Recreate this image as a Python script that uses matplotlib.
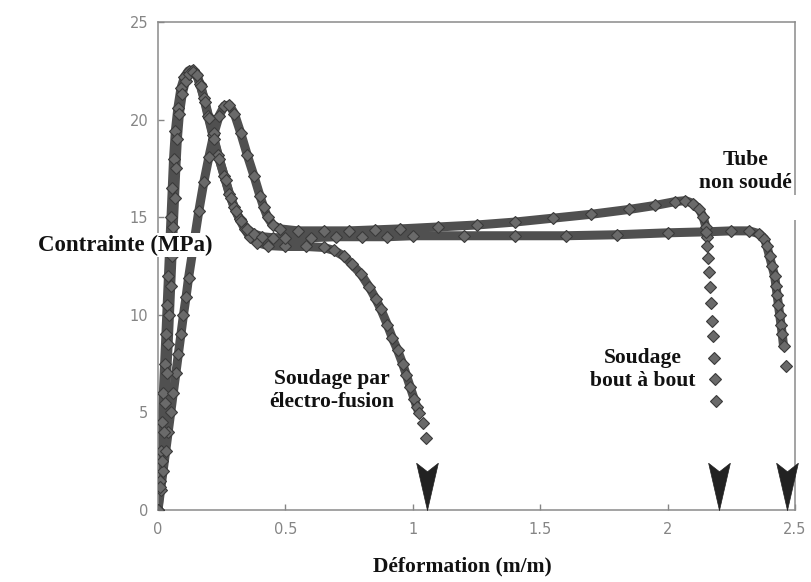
import numpy as np
import matplotlib.pyplot as plt
from matplotlib.patches import Rectangle

# Soudage par electro-fusion
ef_x = [0, 0.006, 0.011, 0.016, 0.021, 0.026, 0.031, 0.036, 0.041, 0.046, 0.051, 0.056, 0.061, 0.068,
        0.078, 0.09, 0.104, 0.12, 0.136, 0.15, 0.165, 0.18, 0.196, 0.215, 0.235, 0.26, 0.28, 0.30, 0.32,
        0.34, 0.36, 0.39, 0.43, 0.5, 0.58, 0.65, 0.69, 0.73, 0.76, 0.796, 0.83, 0.855, 0.874, 0.9, 0.92,
        0.94, 0.96, 0.975, 0.99, 1.005, 1.015, 1.025]
ef_y = [0, 1.5, 3, 4.5, 6, 7.5, 9, 10.5, 12, 13.5, 15, 16.5, 18, 19.4,
        20.6, 21.6, 22.2, 22.5, 22.55, 22.35, 21.8, 21.1, 20.2, 19.2, 18.2, 17.1, 16.2, 15.5, 14.9,
        14.4, 14.0, 13.7, 13.55, 13.5, 13.5, 13.45, 13.3, 13.0, 12.6, 12.1, 11.4, 10.8, 10.3, 9.5, 8.8,
        8.2, 7.5, 6.9, 6.3, 5.7, 5.3, 4.95]
ef_tail_x = [1.04, 1.05]
ef_tail_y = [4.45, 3.7]

# Soudage bout a bout
bab_x = [0, 0.01, 0.02, 0.03, 0.04, 0.05, 0.06, 0.07, 0.08, 0.09, 0.10, 0.11, 0.12, 0.14, 0.16, 0.18,
         0.20, 0.22, 0.24, 0.26, 0.28, 0.30, 0.325, 0.35, 0.377, 0.40, 0.415, 0.43, 0.45, 0.48, 0.55,
         0.65, 0.75, 0.85, 0.95, 1.1, 1.25, 1.4, 1.55, 1.7, 1.85, 1.95, 2.03, 2.07, 2.1, 2.125, 2.14,
         2.15, 2.153]
bab_y = [0, 1, 2, 3, 4, 5, 6, 7, 8, 9, 10, 10.9, 11.9, 13.6, 15.3, 16.8,
         18.1, 19.3, 20.2, 20.7, 20.75, 20.3, 19.3, 18.2, 17.1, 16.1, 15.5, 15.0, 14.6, 14.4, 14.3,
         14.3, 14.3, 14.35, 14.4, 14.5, 14.6, 14.75, 14.95, 15.15, 15.4, 15.6, 15.8, 15.85, 15.7, 15.4, 15.0,
         14.5, 14.0]
bab_tail_x = [2.155, 2.158, 2.162, 2.166, 2.17, 2.174, 2.178, 2.182, 2.186, 2.19]
bab_tail_y = [13.5, 12.9, 12.2, 11.4, 10.6, 9.7, 8.9, 7.8, 6.7, 5.6]

# Tube non soude
ns_x = [0, 0.008, 0.015, 0.022, 0.028, 0.034, 0.04, 0.045, 0.05, 0.055, 0.06, 0.065, 0.07, 0.076,
        0.084, 0.095, 0.108, 0.122, 0.138, 0.152, 0.168, 0.185, 0.2, 0.22, 0.24, 0.265, 0.285, 0.305,
        0.325, 0.35, 0.375, 0.41, 0.45, 0.5, 0.6, 0.7, 0.8, 0.9, 1.0, 1.2, 1.4, 1.6, 1.8, 2.0, 2.15,
        2.25, 2.32, 2.36, 2.38, 2.39, 2.40, 2.41, 2.42, 2.425, 2.43, 2.435, 2.44, 2.445, 2.45, 2.455]
ns_y = [0, 1.2, 2.5, 4, 5.5, 7, 8.5, 10, 11.5, 13, 14.5, 16, 17.5, 19,
        20.3, 21.3, 22.0, 22.35, 22.45, 22.3, 21.7, 20.9, 20.1, 19.0, 18.0, 16.9, 16.0, 15.3,
        14.8, 14.4, 14.15, 14.0, 13.95, 13.95, 13.95, 14.0, 14.0, 14.0, 14.05, 14.05, 14.05, 14.05, 14.1, 14.2, 14.25,
        14.3, 14.3, 14.15, 13.9, 13.5, 13.0, 12.5, 12.0, 11.5, 11.0, 10.5, 10.0, 9.5, 9.0, 8.4]
ns_tail_x = [2.465]
ns_tail_y = [7.4]

rupture_x = [1.055, 2.20, 2.47]

line_col = "#505050"
face_col = "#6a6a6a"
edge_col = "#3a3a3a"

fig = plt.figure(figsize=(8.11, 5.82), dpi=100)
ax = fig.add_axes([158 / 811, 72 / 582, 637 / 811, 488 / 582])

for xs, ys in [(ef_x, ef_y), (bab_x, bab_y), (ns_x, ns_y)]:
    ax.plot(xs, ys, color=line_col, lw=6.5, solid_capstyle="round", solid_joinstyle="round", zorder=2)
    ax.plot(xs, ys, ls="none", marker="D", ms=6, mfc=face_col, mec=edge_col, mew=0.8, zorder=3)

for xs, ys in [(ef_tail_x, ef_tail_y), (bab_tail_x, bab_tail_y), (ns_tail_x, ns_tail_y)]:
    ax.plot(xs, ys, ls="none", marker="D", ms=6, mfc=face_col, mec=edge_col, mew=0.8, zorder=3)

# arrow heads marking the rupture
arrow = [(0, 0), (-0.23, 1.0), (0, 0.82), (0.23, 1.0), (0, 0)]
ax.plot(rupture_x, [0] * len(rupture_x), ls="none", marker=arrow, ms=68,
        mfc="#222222", mec="#222222", mew=0.5, zorder=4, clip_on=False)

ax.set_xlim(0, 2.5)
ax.set_ylim(0, 25)
ax.set_xticks([0, 0.5, 1, 1.5, 2, 2.5])
ax.set_xticklabels(["0", "0.5", "1", "1.5", "2", "2.5"])
ax.set_yticks([0, 5, 10, 15, 20, 25])
ax.tick_params(direction="in", length=4, width=1, colors="#858585", labelsize=10.5)
ax.tick_params(axis="x", pad=9)
ax.tick_params(axis="y", pad=7)
for s in ax.spines.values():
    s.set_color("#8a8a8a")
    s.set_linewidth(1.1)

# small break in the right frame under the "Tube non soude" label
ax.add_patch(Rectangle((0.99, (510 - 220) / 488), 0.03, 25 / 488, transform=ax.transAxes,
                       facecolor="white", edgecolor="none", clip_on=False, zorder=3))

serif = "Liberation Serif"
ax.text(54 / 637, 0.543, "Contrainte (MPa)", transform=ax.transAxes, fontsize=16.5, fontweight="bold",
        family=serif, ha="right", va="center", color="#111111", clip_on=False, zorder=6,
        bbox=dict(facecolor="white", edgecolor="none", pad=1))
ax.set_xlabel("Déformation (m/m)", fontsize=15.5, fontweight="bold", family=serif,
              ha="center", va="center", color="#111111")
ax.xaxis.set_label_coords(0.478, -0.115)

txt = dict(fontsize=15.5, fontweight="bold", family=serif, ha="center", va="center",
           color="#111111", linespacing=1.25, zorder=5)
ax.text(0.683, 6.12, "Soudage par\nélectro-fusion", **txt)
ax.text(1.903, 7.2, "Soudage\nbout à bout", **txt)
ax.text(2.304, 17.34, "Tube\nnon soudé", clip_on=False, **txt)

fig.savefig("out.png", dpi=100)
